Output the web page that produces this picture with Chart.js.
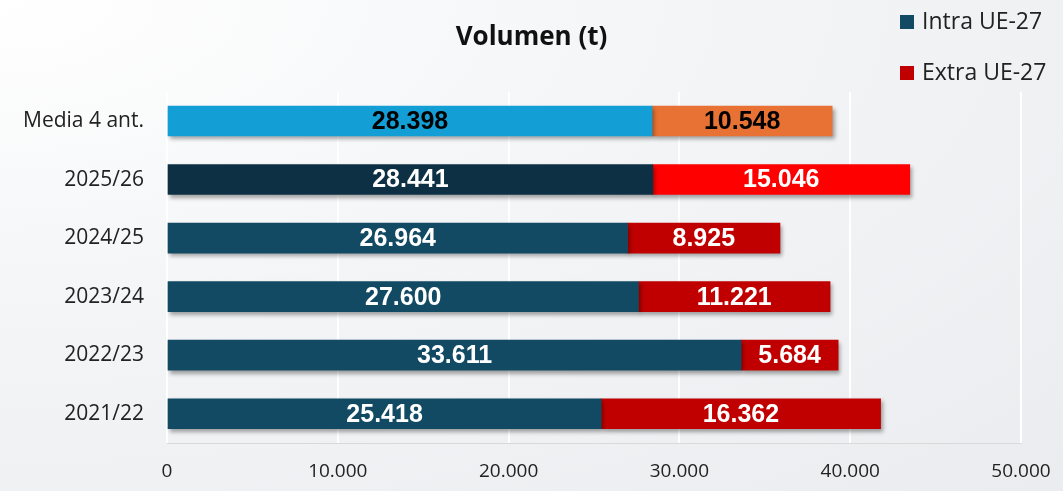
<!DOCTYPE html>
<html>
<head>
<meta charset="utf-8">
<script src="https://cdn.jsdelivr.net/npm/chart.js@4.4.1/dist/chart.umd.min.js"></script>
<style>
  html, body { margin: 0; padding: 0; }
  body {
    width: 1063px; height: 491px; overflow: hidden;
    background: radial-gradient(ellipse at 0% 0%, #ffffff 0%, #f4f5f7 45%, #ebecef 100%);
    font-family: "Open Sans", "Noto Sans", sans-serif;
  }
  #wrap { position: relative; width: 1063px; height: 491px; }
  .leg { position: absolute; left: 900px; font-size: 23px; color: #222; line-height: 26px; white-space: nowrap; }
  .leg span { display: inline-block; width: 14px; height: 14px; margin-right: 8px; vertical-align: 0px; }
</style>
</head>
<body>
<div id="wrap">
  <canvas id="chart" width="1063" height="491"></canvas>
  <div class="leg" style="top:7px"><span style="background:#124a63"></span>Intra UE-27</div>
  <div class="leg" style="top:58px"><span style="background:#c00000"></span>Extra UE-27</div>
</div>
<script>
const categories = ["Media 4 ant.", "2025/26", "2024/25", "2023/24", "2022/23", "2021/22"];
const intra = [28398, 28441, 26964, 27600, 33611, 25418];
const extra = [10548, 15046, 8925, 11221, 5684, 16362];
const xTicks = [0, 10000, 20000, 30000, 40000, 50000];

const intraColors = ["#139fd6", "#0d3045", "#124a63", "#124a63", "#124a63", "#124a63"];
const extraColors = ["#e87234", "#ff0000", "#c00000", "#c00000", "#c00000", "#c00000"];
const labelColors = ["#000", "#fff", "#fff", "#fff", "#fff", "#fff"];

const uiFont = '"Open Sans", "Noto Sans", sans-serif';

function fmt(v) {
    return String(v).replace(/\B(?=(\d{3})+(?!\d))/g, ".");
}

// sombra de las barras + etiquetas
const shadowPlugin = {
    id: "shadow",
    beforeDatasetsDraw(chart) {
        const ctx = chart.ctx;
        ctx.save();
        ctx.shadowColor = "rgba(0,0,0,0.35)";
        ctx.shadowBlur = 4;
        ctx.shadowOffsetX = 2;
        ctx.shadowOffsetY = 3;
    },
    afterDatasetsDraw(chart) {
        const ctx = chart.ctx;
        ctx.restore();
        ctx.save();
        ctx.font = 'bold 25px "Liberation Sans", Arial, sans-serif';
        ctx.textAlign = "center";
        ctx.textBaseline = "middle";
        chart.data.datasets.forEach((ds, di) => {
            chart.getDatasetMeta(di).data.forEach((bar, i) => {
                ctx.fillStyle = labelColors[i];
                const x = (bar.x + bar.base) / 2;
                ctx.fillText(fmt(ds.data[i]), x, bar.y + 1);
            });
        });
        ctx.restore();
    }
};

new Chart(document.getElementById("chart"), {
    type: "bar",
    data: {
        labels: categories,
        datasets: [
            { label: "Intra UE-27", data: intra, backgroundColor: intraColors },
            { label: "Extra UE-27", data: extra, backgroundColor: extraColors }
        ]
    },
    options: {
        indexAxis: "y",
        responsive: false,
        animation: false,
        layout: { padding: 0 },
        datasets: { bar: { barThickness: 30 } },
        scales: {
            x: {
                stacked: true,
                min: 0,
                max: 50000,
                afterBuildTicks: (axis) => { axis.ticks = xTicks.map(v => ({ value: v })); },
                afterFit: (axis) => {
                    axis.height = 48;
                    axis.paddingLeft = 0;
                    axis.paddingRight = 42;
                },
                grid: { color: "#ffffff", lineWidth: 2, drawTicks: false },
                border: { display: true, color: "#d9d9d9", width: 1 },
                ticks: {
                    padding: 17,
                    color: "#222",
                    font: { family: uiFont, size: 19 },
                    callback: (v) => fmt(v)
                }
            },
            y: {
                stacked: true,
                afterFit: (axis) => { axis.width = 167; },
                grid: { display: false, drawTicks: false },
                border: { display: false },
                ticks: {
                    padding: 23,
                    color: "#222",
                    font: { family: uiFont, size: 21 }
                }
            }
        },
        plugins: {
            legend: { display: false },
            tooltip: { enabled: false },
            title: {
                display: true,
                text: "Volumen (t)",
                color: "#111",
                font: { family: uiFont, size: 26, weight: "bold" },
                padding: { top: 22, bottom: 38.5 }
            }
        }
    },
    plugins: [shadowPlugin]
});
</script>
</body>
</html>
